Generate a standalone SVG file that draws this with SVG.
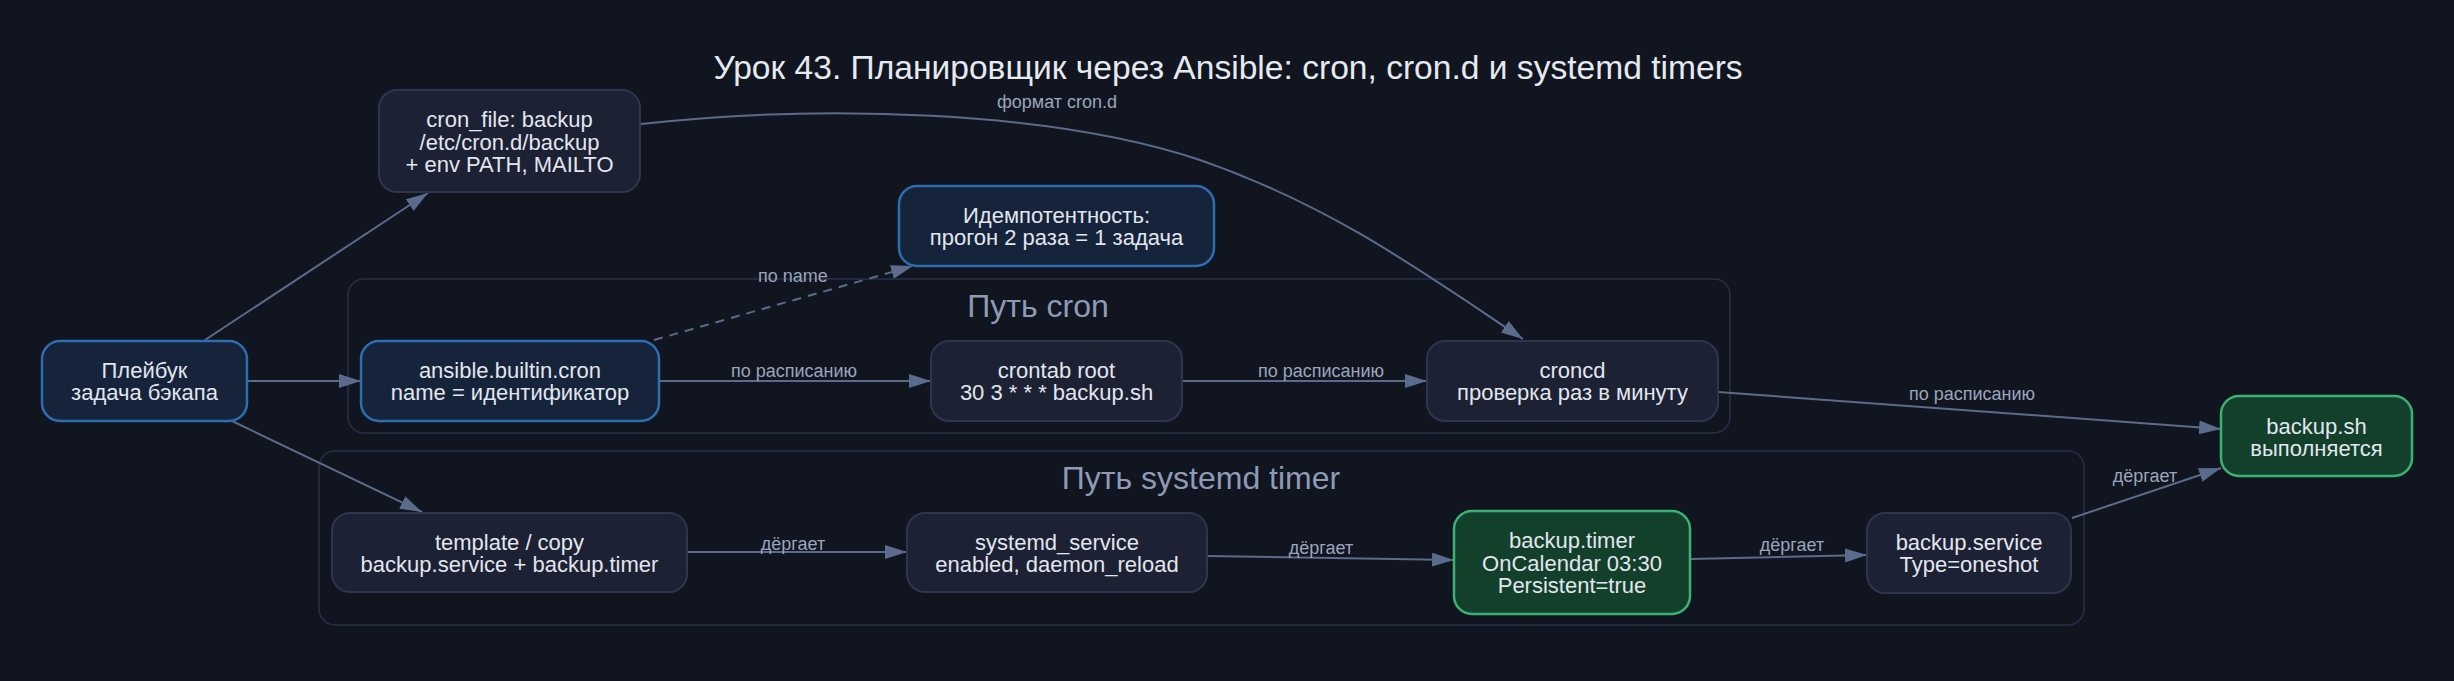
<svg xmlns="http://www.w3.org/2000/svg" width="2454" height="681" viewBox="0 0 2454 681">
<defs>
<marker id="arr" markerUnits="userSpaceOnUse" markerWidth="24" markerHeight="16" refX="22" refY="7" orient="auto">
<path d="M0,0 L22,7 L0,14 z" fill="#5b6b8c"/>
</marker>
<style>
text{font-family:"Liberation Sans",Arial,sans-serif}
.title{font-size:33.6px;fill:#e5e9f0;text-anchor:middle}
.clabel{font-size:32px;fill:#8e9bb7;text-anchor:middle}
.cluster{fill:none;stroke:#273049;stroke-width:1.5}
.node rect{fill:#1c2133;stroke:#2e364d;stroke-width:2}
.node.blue rect{fill:#15243a;stroke:#2d6db0;stroke-width:2.5}
.node.green rect{fill:#13402a;stroke:#3bb273;stroke-width:2.5}
.node text{font-size:22px;fill:#e2e6ee;text-anchor:middle}
.edge{fill:none;stroke:#5b6b8c;stroke-width:2;marker-end:url(#arr)}
.dash{stroke-dasharray:9,7}
.elabel{font-size:18px;fill:#9aa5bd;text-anchor:middle}
</style>
</defs>
<rect x="0" y="0" width="2454" height="681" fill="#11151f"/>
<text class="title" x="1228" y="79">Урок 43. Планировщик через Ansible: cron, cron.d и systemd timers</text>

<g id="cluster_cron">
<rect class="cluster" x="348" y="279" width="1382" height="154" rx="16"/>
<text class="clabel" x="1038" y="317">Путь cron</text>
</g>
<g id="cluster_systemd">
<rect class="cluster" x="319" y="451" width="1765" height="174" rx="16"/>
<text class="clabel" x="1201" y="489">Путь systemd timer</text>
</g>

<g id="edges">
<path class="edge" d="M205,340 L428,193"/>
<path class="edge" d="M247,381 L361,381"/>
<path class="edge" d="M232,421 L422,512"/>
<path class="edge" d="M659,381 L931,381"/>
<path class="edge" d="M1182,381 L1427,381"/>
<path class="edge" d="M641,124 C820,104 1050,110 1200,160 C1330,205 1420,270 1523,339"/>
<path class="edge" d="M1718,392 L2221,429"/>
<path class="edge" d="M687,552 L907,552"/>
<path class="edge" d="M1207,556 L1454,560"/>
<path class="edge" d="M1690,559 L1867,555"/>
<path class="edge" d="M2072,518 L2221,468"/>
<path class="edge dash" d="M654,340 L913,266"/>
<text class="elabel" x="1057" y="108">формат cron.d</text>
<text class="elabel" x="793" y="282">по name</text>
<text class="elabel" x="794" y="377">по расписанию</text>
<text class="elabel" x="1321" y="377">по расписанию</text>
<text class="elabel" x="1972" y="400">по расписанию</text>
<text class="elabel" x="793" y="550">дёргает</text>
<text class="elabel" x="1321" y="554">дёргает</text>
<text class="elabel" x="1792" y="551">дёргает</text>
<text class="elabel" x="2145" y="482">дёргает</text>
</g>

<g id="playbook" class="node blue">
<rect x="42" y="341" width="205" height="80" rx="18"/>
<text x="144.5" y="378">Плейбук<tspan x="144.5" dy="22">задача бэкапа</tspan></text>
</g>
<g id="cron_file" class="node">
<rect x="379" y="90" width="261" height="102" rx="18"/>
<text x="509.5" y="127">cron_file: backup<tspan x="509.5" dy="22.5">/etc/cron.d/backup</tspan><tspan x="509.5" dy="22.5">+ env PATH, MAILTO</tspan></text>
</g>
<g id="idempotence" class="node blue">
<rect x="899" y="186" width="315" height="80" rx="18"/>
<text x="1056.5" y="223">Идемпотентность:<tspan x="1056.5" dy="22">прогон 2 раза = 1 задача</tspan></text>
</g>
<g id="ansible_cron" class="node blue">
<rect x="361" y="341" width="298" height="80" rx="18"/>
<text x="510" y="378">ansible.builtin.cron<tspan x="510" dy="22">name = идентификатор</tspan></text>
</g>
<g id="crontab_root" class="node">
<rect x="931" y="341" width="251" height="80" rx="18"/>
<text x="1056.5" y="378">crontab root<tspan x="1056.5" dy="22">30 3 * * * backup.sh</tspan></text>
</g>
<g id="croncd" class="node">
<rect x="1427" y="341" width="291" height="80" rx="18"/>
<text x="1572.5" y="378">croncd<tspan x="1572.5" dy="22">проверка раз в минуту</tspan></text>
</g>
<g id="backup_sh" class="node green">
<rect x="2221" y="396" width="191" height="80" rx="18"/>
<text x="2316.5" y="434">backup.sh<tspan x="2316.5" dy="22">выполняется</tspan></text>
</g>
<g id="template_copy" class="node">
<rect x="332" y="513" width="355" height="79" rx="18"/>
<text x="509.5" y="550">template / copy<tspan x="509.5" dy="22">backup.service + backup.timer</tspan></text>
</g>
<g id="systemd_service" class="node">
<rect x="907" y="513" width="300" height="79" rx="18"/>
<text x="1057" y="550">systemd_service<tspan x="1057" dy="22">enabled, daemon_reload</tspan></text>
</g>
<g id="backup_timer" class="node green">
<rect x="1454" y="511" width="236" height="103" rx="18"/>
<text x="1572" y="548">backup.timer<tspan x="1572" dy="22.5">OnCalendar 03:30</tspan><tspan x="1572" dy="22.5">Persistent=true</tspan></text>
</g>
<g id="backup_service" class="node">
<rect x="1867" y="513" width="204" height="80" rx="18"/>
<text x="1969" y="550">backup.service<tspan x="1969" dy="22">Type=oneshot</tspan></text>
</g>
</svg>
